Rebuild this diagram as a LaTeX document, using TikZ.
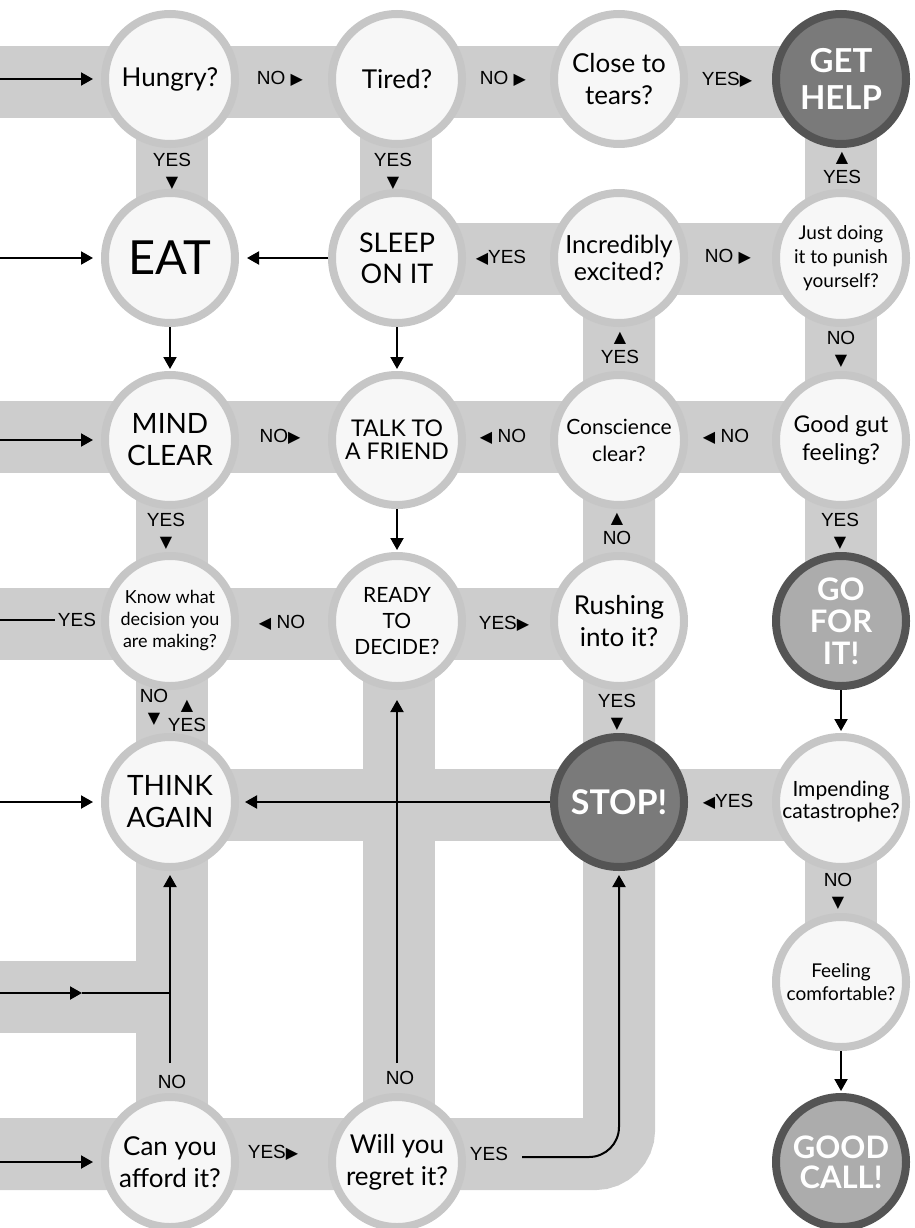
\documentclass[tikz,border=0pt]{standalone}
\usepackage{fontspec}
\setmainfont{Lato}
\newfontfamily\tagfont{Liberation Sans}
\newfontfamily\symfont{DejaVu Sans}
\usepackage{tikz}
\usetikzlibrary{arrows.meta}
\definecolor{trackgray}{RGB}{205, 205, 205}
\definecolor{ringgray}{RGB}{198, 198, 198}
\definecolor{papergray}{RGB}{247, 247, 247}
\definecolor{stopgray}{RGB}{122, 122, 122}
\definecolor{gogray}{RGB}{172, 172, 172}
\definecolor{edgegray}{RGB}{84, 84, 84}

\newcommand{\rtri}{{\symfont\fontsize{16}{16}\selectfont ▶}}
\newcommand{\ltri}{{\symfont\fontsize{16}{16}\selectfont ◀}}
\newcommand{\utri}{{\symfont\fontsize{16}{16}\selectfont ▲}}
\newcommand{\dtri}{{\symfont\fontsize{16}{16}\selectfont ▼}}

\begin{document}
\begin{tikzpicture}[
    x=1pt, y=-1pt,
    track/.style={draw=trackgray, line width=72pt},
    ask/.style 2 args={circle, draw=ringgray, fill=papergray, line width=8pt,
        minimum size=130pt, inner sep=0pt, align=center,
        font=\fontsize{#1}{#2}\selectfont},
    goal/.style 2 args={ask={#1}{#2}, draw=edgegray, fill=stopgray, text=white,
        font=\fontsize{#1}{#2}\selectfont\bfseries},
    golight/.style={fill=gogray},
    tag/.style={font=\tagfont\fontsize{19}{21}\selectfont, inner sep=0pt, align=center},
    flow/.style={line width=2pt, -{Triangle[length=12pt, width=13pt]}, shorten >=2pt}
]
\useasboundingbox (0,0) rectangle (914,1228);

% Tracks
\draw[track] (0,82) -- (841,82);
\draw[track] (397,259) -- (841,259);
\draw[track] (0,437) -- (841,437);
\draw[track] (0,624) -- (619,624);
\draw[track] (170,805) -- (841,805);
\draw[track] (0,997) -- (172,997);
\draw[track] (172,79) -- (172,258);
\draw[track] (172,440) -- (172,1160);
\draw[track] (396,79) -- (396,258);
\draw[track] (399,621) -- (399,1160);
\draw[track, rounded corners=24pt] (619,258) -- (619,1154) -- (0,1154);
\draw[track] (841,79) -- (841,621);
\draw[track] (841,802) -- (841,982);

% Row 1
\node[ask={26}{32}] (hungry) at (170,79) {Hungry?};
\node[ask={26}{32}] (tired) at (397,79) {Tired?};
\node[ask={26}{32}] (tears) at (619,79) {Close to\\tears?};
\node[goal={33}{37}] (gethelp) at (841,79) {GET\\HELP};

% Row 2
\node[ask={47}{50}] (eat) at (170,258) {EAT};
\node[ask={27}{31}] (sleep) at (397,258) {SLEEP\\ON IT};
\node[ask={25}{27}] (excited) at (619,258) {Incredibly\\excited?};
\node[ask={19}{24}] (punish) at (841,258) {Just doing\\it to punish\\yourself?};

% Row 3
\node[ask={28}{32}] (mind) at (170,440) {MIND\\CLEAR};
\node[ask={23}{23}] (talk) at (397,440) {TALK TO\\A FRIEND};
\node[ask={21}{27}] (conscience) at (619,440) {Conscience\\clear?};
\node[ask={23}{28}] (gut) at (841,440) {Good gut\\feeling?};

% Row 4
\node[ask={18}{22}] (know) at (170,621) {Know what\\decision you\\are making?};
\node[ask={21}{26}] (ready) at (397,621) {READY\\TO\\DECIDE?};
\node[ask={26}{32}] (rushing) at (619,621) {Rushing\\into it?};
\node[goal={31}{32}, golight] (gofor) at (841,621) {GO\\FOR\\IT!};

% Row 5
\node[ask={28}{32}] (think) at (170,802) {THINK\\AGAIN};
\node[goal={34}{36}] (stop) at (619,802) {STOP!};
\node[ask={21}{22}] (impending) at (841,802) {Impending\\catastrophe?};

% Rows 6 and 7
\node[ask={19}{23}] (comfortable) at (841,982) {Feeling\\comfortable?};
\node[ask={26}{32}] (afford) at (170,1162) {Can you\\afford it?};
\node[ask={26}{32}] (regret) at (397,1162) {Will you\\regret it?};
\node[goal={31}{30}, golight] (goodcall) at (841,1162) {GOOD\\CALL!};

% Answers
\foreach \n/\x/\y/\txt in {
    1/280/79/NO \rtri, 2/503/79/NO \rtri, 3/727/80/YES\rtri,
    4/172/171/YES\\\dtri, 5/393/171/YES\\\dtri, 6/842/168/\utri\\YES,
    7/501/258/\ltri YES, 8/728/257/NO \rtri, 9/620/348/\utri\\YES,
    10/841/349/NO\\\dtri, 11/280/437/NO\rtri, 12/503/437/\ltri\ NO,
    13/726/437/\ltri\ NO, 14/166/531/YES\\\dtri, 15/617/529/\utri\\NO,
    16/840/531/YES\\\dtri, 17/282/623/\ltri\ NO, 18/504/624/YES\rtri,
    19/154/707/NO\\\dtri, 20/187/716/\utri\\YES, 21/617/712/YES\\\dtri,
    22/728/802/\ltri YES, 23/838/891/NO\\\dtri, 24/172/1082/NO,
    25/400/1078/NO, 26/273/1153/YES\rtri, 27/489/1154/YES, 28/77/620/YES} {
    \node[tag] (tag\n) at (\x,\y) {\txt};
}

% Loose ends
\coordinate (in1) at (0,79);
\coordinate (in2) at (0,258);
\coordinate (in3) at (0,440);
\coordinate (out4) at (0,620);
\coordinate (in5) at (0,802);
\coordinate (in6) at (0,993);
\coordinate (mid6) at (82,993);
\coordinate (join6) at (170,993);
\coordinate (in7) at (0,1162);
\coordinate (affno) at (170,1063);
\coordinate (regno) at (397,1063);
\coordinate (regyes) at (522,1157);

% Arrows
\draw[flow, shorten >=8pt] (in1) -- (hungry);
\draw[flow, shorten >=8pt] (in2) -- (eat);
\draw[flow, shorten >=8pt] (sleep) -- (eat);
\draw[flow] (eat) -- (mind);
\draw[flow] (sleep) -- (talk);
\draw[flow, shorten >=8pt] (in3) -- (mind);
\draw[flow] (talk) -- (ready);
\draw[line width=2pt, shorten <=3pt] (tag28) -- (out4);
\draw[flow, shorten >=8pt] (in5) -- (think);
\draw[flow, shorten >=6pt] (stop) -- (think);
\draw[flow, shorten >=10pt] (regno) -- (ready);
\draw[flow, shorten >=4pt] (affno) -- (think);
\draw[flow, shorten >=0pt] (in6) -- (mid6);
\draw[line width=2pt] (mid6) -- (join6);
\draw[flow, shorten >=8pt] (in7) -- (afford);
\draw[flow, shorten >=4pt, rounded corners=30pt] (regyes) -| (stop);
\draw[flow] (gofor) -- (impending);
\draw[flow] (comfortable) -- (goodcall);

\end{tikzpicture}
\end{document}
